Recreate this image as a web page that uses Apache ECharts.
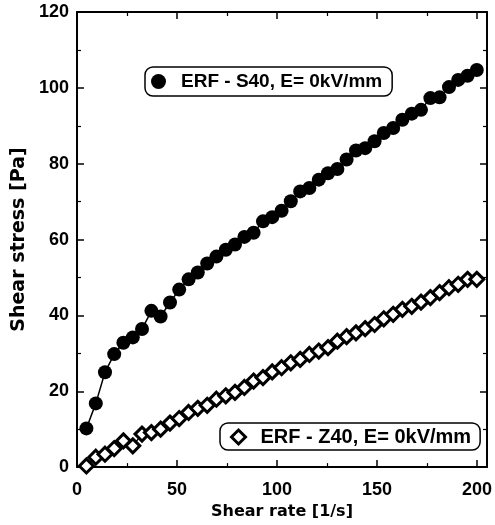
<!DOCTYPE html>
<html>
<head>
<meta charset="utf-8">
<script src="https://cdn.jsdelivr.net/npm/echarts@6/dist/echarts.min.js"></script>
<style>html,body{margin:0;padding:0;background:#fff}#c{width:495px;height:525px}</style>
</head>
<body>
<div id="c"></div>
<script>
const shearRate = [4.7, 9.4, 14, 18.6, 23.2, 27.9, 32.5, 37.2, 41.8, 46.5, 51.1, 55.8, 60.4, 65.1, 69.7, 74.4,
  79, 83.7, 88.3, 93, 97.6, 102.3, 106.9, 111.6, 116.2, 120.9, 125.5, 130.2, 134.8, 139.5, 144.1, 148.8,
  153.4, 158.1, 162.7, 167.4, 172, 176.7, 181.3, 186, 190.6, 195.3, 199.9];
const stressS40 = [10.2, 16.8, 25, 29.8, 32.8, 34.2, 36.4, 41.2, 39.7, 43.4, 46.8, 49.5, 51.3, 53.7, 55.5, 57.3,
  58.7, 60.7, 61.8, 64.8, 65.9, 67.6, 70.1, 72.7, 73.6, 75.8, 77.5, 78.6, 81.1, 83.5, 84.1, 85.9,
  88.1, 89.4, 91.6, 93.2, 94.2, 97.3, 97.5, 100.2, 102.1, 103.2, 104.7];
const stressZ40 = [0.3, 2.6, 3.4, 4.9, 6.9, 5.6, 8.7, 9.1, 10, 11.6, 12.8, 14.4, 15.5, 16.3, 17.9, 18.8,
  19.7, 21, 22.7, 23.6, 25.1, 26.2, 27.5, 28.4, 29.7, 30.6, 31.5, 33.2, 34.4, 35.4, 36.5, 37.6,
  39.1, 40.3, 41.6, 42.4, 43.5, 44.7, 46, 47.3, 48.2, 49.5, 49.5];
const nameS40 = 'ERF - S40, E= 0kV/mm';
const nameZ40 = 'ERF - Z40, E= 0kV/mm';
const xTitle = 'Shear rate [1/s]';
const yTitle = 'Shear stress [Pa]';

const pair = (xs, ys) => xs.map((x, i) => [x, ys[i]]);
const numFont = 'Liberation Sans, Arial, sans-serif';
const titleFont = 'DejaVu Sans, Verdana, sans-serif';

function axisCommon(extra) {
  return Object.assign({
    axisLine: { show: true, onZero: false, lineStyle: { color: '#000', width: 2 } },
    axisTick: { show: true, inside: true, length: 7, lineStyle: { color: '#000', width: 1.5 } },
    minorTick: { show: true, splitNumber: 2, length: 4, lineStyle: { color: '#000', width: 1.2 } },
    splitLine: { show: false },
    axisLabel: { color: '#000', fontFamily: numFont, fontWeight: 'bold', fontSize: 18 }
  }, extra);
}

const chart = echarts.init(document.getElementById('c'), null, { renderer: 'canvas' });
chart.setOption({
  animation: false,
  backgroundColor: '#fff',
  grid: { left: 77, right: 3, top: 12, bottom: 57 },
  xAxis: [
    axisCommon({ type: 'value', min: 0, max: 205, interval: 50, position: 'bottom',
      name: xTitle, nameLocation: 'middle', nameGap: 33,
      nameTextStyle: { color: '#000', fontFamily: titleFont, fontWeight: 'bold', fontSize: 16 },
      axisLabel: { color: '#000', fontFamily: numFont, fontWeight: 'bold', fontSize: 18, margin: 14,
        formatter: v => (v % 50 === 0 ? String(v) : '') } }),
    axisCommon({ type: 'value', min: 0, max: 205, interval: 50, position: 'top',
      axisLabel: { show: false } })
  ],
  yAxis: [
    axisCommon({ type: 'value', min: 0, max: 120, interval: 20, position: 'left',
      name: yTitle, nameLocation: 'middle', nameGap: 47,
      nameTextStyle: { color: '#000', fontFamily: titleFont, fontWeight: 'bold', fontSize: 19 },
      axisLabel: { color: '#000', fontFamily: numFont, fontWeight: 'bold', fontSize: 18, margin: 8 } }),
    axisCommon({ type: 'value', min: 0, max: 120, interval: 20, position: 'right',
      axisLabel: { show: false } })
  ],
  legend: [
    {
      left: 145, top: 67, orient: 'horizontal',
      data: [{ name: nameS40, icon: 'circle' }],
      itemWidth: 15, itemHeight: 15,
      padding: [5, 10, 5, 6],
      borderColor: '#000', borderWidth: 1.5, borderRadius: 8,
      textStyle: { color: '#000', fontFamily: numFont, fontWeight: 'bold', fontSize: 19, padding: [0, 0, 0, 10] }
    },
    {
      left: 220, top: 423, orient: 'horizontal',
      data: [{ name: nameZ40, icon: 'diamond', itemStyle: { color: '#fff', borderColor: '#000', borderWidth: 3 } }],
      itemWidth: 14, itemHeight: 14,
      padding: [4, 9, 3, 10],
      borderColor: '#000', borderWidth: 1.5, borderRadius: 8,
      textStyle: { color: '#000', fontFamily: numFont, fontWeight: 'bold', fontSize: 20, padding: [0, 0, 0, 10] }
    }
  ],
  series: [
    {
      name: nameS40, type: 'line', xAxisIndex: 0, yAxisIndex: 0,
      data: pair(shearRate, stressS40),
      symbol: 'circle', symbolSize: 14,
      itemStyle: { color: '#000' },
      lineStyle: { color: '#000', width: 1.5 }
    },
    {
      name: nameZ40, type: 'line', xAxisIndex: 0, yAxisIndex: 0,
      data: pair(shearRate, stressZ40),
      symbol: 'diamond', symbolSize: 14,
      itemStyle: { color: '#fff', borderColor: '#000', borderWidth: 3 },
      lineStyle: { color: '#000', width: 1.5 }
    }
  ]
});
</script>
</body>
</html>
